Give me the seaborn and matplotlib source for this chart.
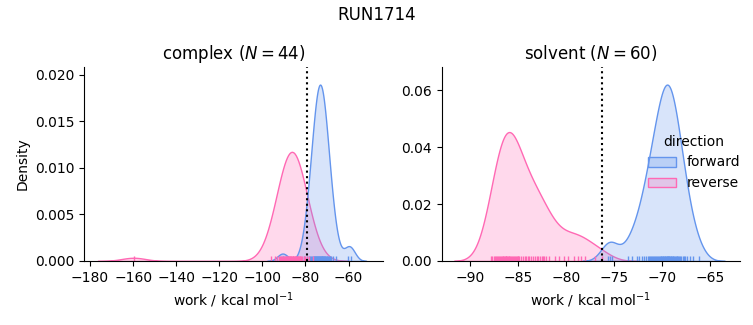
import matplotlib
matplotlib.use("Agg")
import matplotlib.pyplot as plt
from matplotlib.ticker import MultipleLocator
import numpy as np
import pandas as pd
import seaborn as sns

phases = ["complex", "solvent"]
directions = ["forward", "reverse"]
palette = {"forward": "cornflowerblue", "reverse": "hotpink"}
free_energy = {"complex": -79.1, "solvent": -76.25}
ytick_step = {"complex": 0.005, "solvent": 0.02}
x_limits = {"complex": (-182.8, -44.2), "solvent": (-93.0, -61.9)}

complex_forward = [
    -90.6,
    -80.8, -79.3, -78.4, -77.9, -77.4, -77.0, -76.6, -76.2, -76.0, -75.7,
    -75.4, -75.1, -74.95, -74.7, -74.5, -74.2, -74.0, -73.85, -73.6, -73.4,
    -73.2, -73.0, -72.8, -72.55, -72.4, -72.2, -71.9, -71.7, -71.5, -71.3,
    -71.0, -70.7, -70.4, -70.2, -69.8, -69.4, -69.0, -68.5, -68.0, -67.1, -65.6,
    -60.2, -59.0,
]
complex_reverse = [
    -159.8,
    -96.05, -94.05, -93.1, -92.3, -91.75, -91.2, -90.7, -90.3, -89.9, -89.65,
    -89.25, -89.0, -88.7, -88.4, -88.1, -87.85, -87.6, -87.35, -87.05, -86.8,
    -86.6, -86.3, -86.0, -85.8, -85.55, -85.25, -85.0, -84.75, -84.5, -84.2,
    -83.9, -83.6, -83.35, -82.95, -82.65, -82.3, -81.85, -81.4, -80.85, -80.25,
    -79.4, -78.55, -76.55,
]
solvent_forward = [
    -75.7, -75.5, -75.3,
    -73.6, -73.2, -72.7, -72.4, -72.1,
    -71.9, -71.75, -71.55, -71.45, -71.3, -71.2, -71.05,
    -70.95, -70.85, -70.75, -70.65, -70.55,
    -70.45, -70.35, -70.3, -70.2, -70.1, -70.05,
    -69.95, -69.9, -69.8, -69.75, -69.7, -69.6, -69.55, -69.5,
    -69.45, -69.4, -69.35, -69.3, -69.2, -69.15, -69.1, -69.05,
    -68.95, -68.85, -68.75, -68.7, -68.6, -68.5,
    -68.45, -68.35, -68.25, -68.15, -68.05,
    -67.9, -67.75, -67.6, -67.4, -67.15, -66.8, -66.15,
]
solvent_reverse = [
    -87.9, -87.75, -87.6,
    -87.45, -87.35, -87.25, -87.15, -87.0,
    -86.95, -86.8, -86.7, -86.65, -86.6, -86.5,
    -86.45, -86.35, -86.3, -86.25, -86.15, -86.1, -86.0,
    -85.95, -85.9, -85.8, -85.7, -85.6, -85.5,
    -85.4, -85.3, -85.2, -85.1, -85.0,
    -84.9, -84.7, -84.5, -84.35, -84.2, -84.05,
    -83.9, -83.7, -83.45, -83.25, -83.1, -83.0,
    -82.8, -82.6, -82.45, -82.35, -82.1,
    -81.8, -81.2,
    -80.8, -80.3, -79.8, -79.2,
    -78.8, -78.5, -78.1, -77.0, -76.3,
]

data = {
    ("complex", "forward"): complex_forward,
    ("complex", "reverse"): complex_reverse,
    ("solvent", "forward"): solvent_forward,
    ("solvent", "reverse"): solvent_reverse,
}
frames = []
for (phase, direction), values in data.items():
    frames.append(pd.DataFrame({"phase": phase, "direction": direction, "work": values}))
df = pd.concat(frames, ignore_index=True)

g = sns.displot(
    df, x="work", hue="direction", col="phase", kind="kde", fill=True, rug=True,
    hue_order=directions, col_order=phases, palette=palette,
    facet_kws=dict(sharex=False, sharey=False), height=3.0, aspect=1.2,
)

for ax, phase in zip(g.axes.flat, phases):
    n = len(data[(phase, "forward")])
    ax.set_title(f"{phase} ($N={n}$)", fontsize=12)
    ax.axvline(free_energy[phase], color="k", ls=":", lw=1.5)
    ax.yaxis.set_major_locator(MultipleLocator(ytick_step[phase]))
    ax.set_xlim(*x_limits[phase])

g.set_axis_labels("work / kcal mol$^{-1}$", "Density")
g.figure.suptitle("RUN1714", fontsize=12)
g.figure.set_size_inches(7.53, 3.25)
g.figure.subplots_adjust(left=0.1116, right=0.983, bottom=0.197, top=0.794, wspace=0.198)
sns.move_legend(g, "center right", bbox_to_anchor=(1.0, 0.5), frameon=False)

g.figure.savefig("out.png", dpi=100)
